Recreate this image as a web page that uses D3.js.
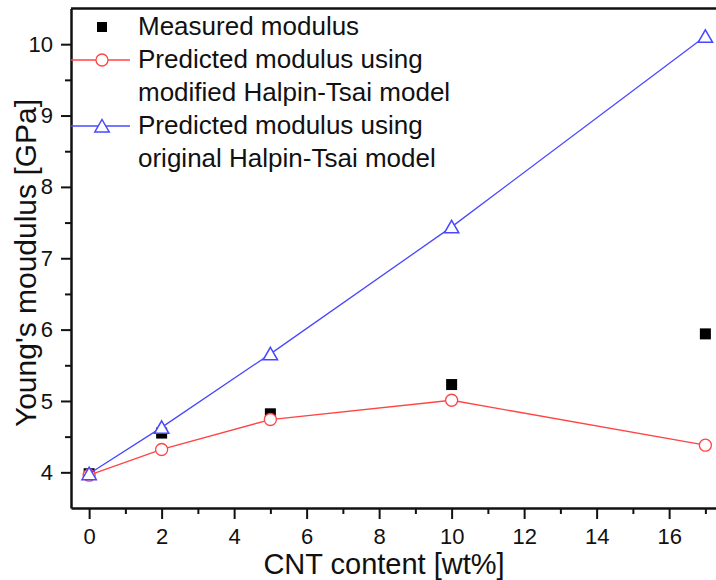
<!DOCTYPE html>
<html>
<head>
<meta charset="utf-8">
<script src="https://cdn.jsdelivr.net/npm/d3@7"></script>
<style>
  body { margin: 0; background: #fff; }
  svg { display: block; font-family: Arial, "Liberation Sans", sans-serif; }
</style>
</head>
<body>
<div id="container"></div>
<script>
const cntContent = [0, 2, 5, 10, 17]
const measured = [3.98, 4.55, 4.82, 5.23, 5.94]
const modifiedHT = [3.96, 4.32, 4.74, 5.01, 4.38]
const originalHT = [3.98, 4.63, 5.66, 7.44, 10.11]

const xMajor = [0, 2, 4, 6, 8, 10, 12, 14, 16]
const xMinor = [1, 3, 5, 7, 9, 11, 13, 15, 17]
const yMajor = [4, 5, 6, 7, 8, 9, 10]
const yMinor = [4.5, 5.5, 6.5, 7.5, 8.5, 9.5]

const legendLabels = [
    ["Measured modulus"],
    ["Predicted modulus using", "modified Halpin-Tsai model"],
    ["Predicted modulus using", "original Halpin-Tsai model"]
]

const red = "#ff4444"
const blue = "#4848ff"

const width = 716, height = 580
const margin = {left: 71, top: 8.5}
const plotW = 652.5, plotH = 499.5

const svg = d3.select("#container").append("svg")
    .attr("width", width)
    .attr("height", height)

const x = d3.scaleLinear().domain([-0.5, 17.5]).range([margin.left, margin.left + plotW])
const y = d3.scaleLinear().domain([3.5, 10.5]).range([margin.top + plotH, margin.top])

const bottomY = y(3.5)

// minor ticks first, then major axes on top
svg.append("g")
    .attr("transform", `translate(0,${bottomY})`)
    .call(d3.axisBottom(x).tickValues(xMinor).tickSize(6).tickFormat(""))
    .call(g => g.select(".domain").remove())

svg.append("g")
    .attr("transform", `translate(${margin.left},0)`)
    .call(d3.axisLeft(y).tickValues(yMinor).tickSize(6).tickFormat(""))
    .call(g => g.select(".domain").remove())

const xAxis = svg.append("g")
    .attr("transform", `translate(0,${bottomY})`)
    .call(d3.axisBottom(x).tickValues(xMajor).tickSize(11).tickSizeOuter(0).tickPadding(9).tickFormat(d3.format("d")))

const yAxis = svg.append("g")
    .attr("transform", `translate(${margin.left},0)`)
    .call(d3.axisLeft(y).tickValues(yMajor).tickSize(10).tickSizeOuter(0).tickPadding(8).tickFormat(d3.format("d")))

svg.selectAll(".tick line").attr("stroke", "#111").attr("stroke-width", 2)
svg.selectAll(".domain").attr("stroke", "#111").attr("stroke-width", 2.5)
svg.selectAll(".tick text").attr("font-size", 22).attr("fill", "#111").attr("font-family", "Arial, 'Liberation Sans', sans-serif")

// top frame line
svg.append("line")
    .attr("x1", margin.left).attr("x2", margin.left + plotW)
    .attr("y1", y(10.5)).attr("y2", y(10.5))
    .attr("stroke", "#111").attr("stroke-width", 2.5)

// axis titles
svg.append("text")
    .attr("x", 384)
    .attr("y", 574)
    .attr("text-anchor", "middle")
    .attr("font-size", 29)
    .attr("fill", "#111")
    .text("CNT content [wt%]")

svg.append("text")
    .attr("transform", "translate(36,263) rotate(-90)")
    .attr("text-anchor", "middle")
    .attr("font-size", 30)
    .attr("fill", "#111")
    .text("Young's moudulus [GPa]")

const pts = arr => cntContent.map((c, i) => [c, arr[i]])
const line = d3.line().x(d => x(d[0])).y(d => y(d[1]))

const triPath = "M0,-6.5 L7.2,6 L-7.2,6 Z"

// measured squares (behind)
svg.append("g").selectAll("rect")
    .data(pts(measured))
    .enter()
    .append("rect")
    .attr("x", d => x(d[0]) - 5.5)
    .attr("y", d => y(d[1]) - 5.5)
    .attr("width", 11)
    .attr("height", 11)
    .attr("fill", "#000")

// modified Halpin-Tsai
svg.append("path")
    .datum(pts(modifiedHT))
    .attr("d", line)
    .attr("fill", "none")
    .attr("stroke", red)
    .attr("stroke-width", 1.3)

svg.append("g").selectAll("circle")
    .data(pts(modifiedHT))
    .enter()
    .append("circle")
    .attr("cx", d => x(d[0]))
    .attr("cy", d => y(d[1]))
    .attr("r", 6)
    .attr("fill", "#fff")
    .attr("stroke", red)
    .attr("stroke-width", 1.3)

// original Halpin-Tsai
svg.append("path")
    .datum(pts(originalHT))
    .attr("d", line)
    .attr("fill", "none")
    .attr("stroke", blue)
    .attr("stroke-width", 1.3)

svg.append("g").selectAll("path")
    .data(pts(originalHT))
    .enter()
    .append("path")
    .attr("transform", d => `translate(${x(d[0])},${y(d[1])})`)
    .attr("d", triPath)
    .attr("fill", "#fff")
    .attr("stroke", blue)
    .attr("stroke-width", 1.5)

// legend
const legend = svg.append("g")
const rowH = 33
const textX = 138, symX = 102, base0 = 35

legend.append("rect")
    .attr("x", symX - 5).attr("y", base0 - 8 - 5)
    .attr("width", 10).attr("height", 10)
    .attr("fill", "#000")

legend.append("line")
    .attr("x1", margin.left).attr("x2", 130)
    .attr("y1", base0 + rowH - 8).attr("y2", base0 + rowH - 8)
    .attr("stroke", red).attr("stroke-width", 1.3)
legend.append("circle")
    .attr("cx", symX).attr("cy", base0 + rowH - 8).attr("r", 6)
    .attr("fill", "#fff").attr("stroke", red).attr("stroke-width", 1.3)

legend.append("line")
    .attr("x1", margin.left).attr("x2", 130)
    .attr("y1", base0 + 3 * rowH - 8).attr("y2", base0 + 3 * rowH - 8)
    .attr("stroke", blue).attr("stroke-width", 1.3)
legend.append("path")
    .attr("transform", `translate(${symX},${base0 + 3 * rowH - 8})`)
    .attr("d", triPath)
    .attr("fill", "#fff").attr("stroke", blue).attr("stroke-width", 1.5)

legend.selectAll("text")
    .data(legendLabels.flat())
    .enter()
    .append("text")
    .attr("x", textX)
    .attr("y", (d, i) => base0 + i * rowH)
    .attr("font-size", 26)
    .attr("fill", "#111")
    .text(d => d)
</script>
</body>
</html>
